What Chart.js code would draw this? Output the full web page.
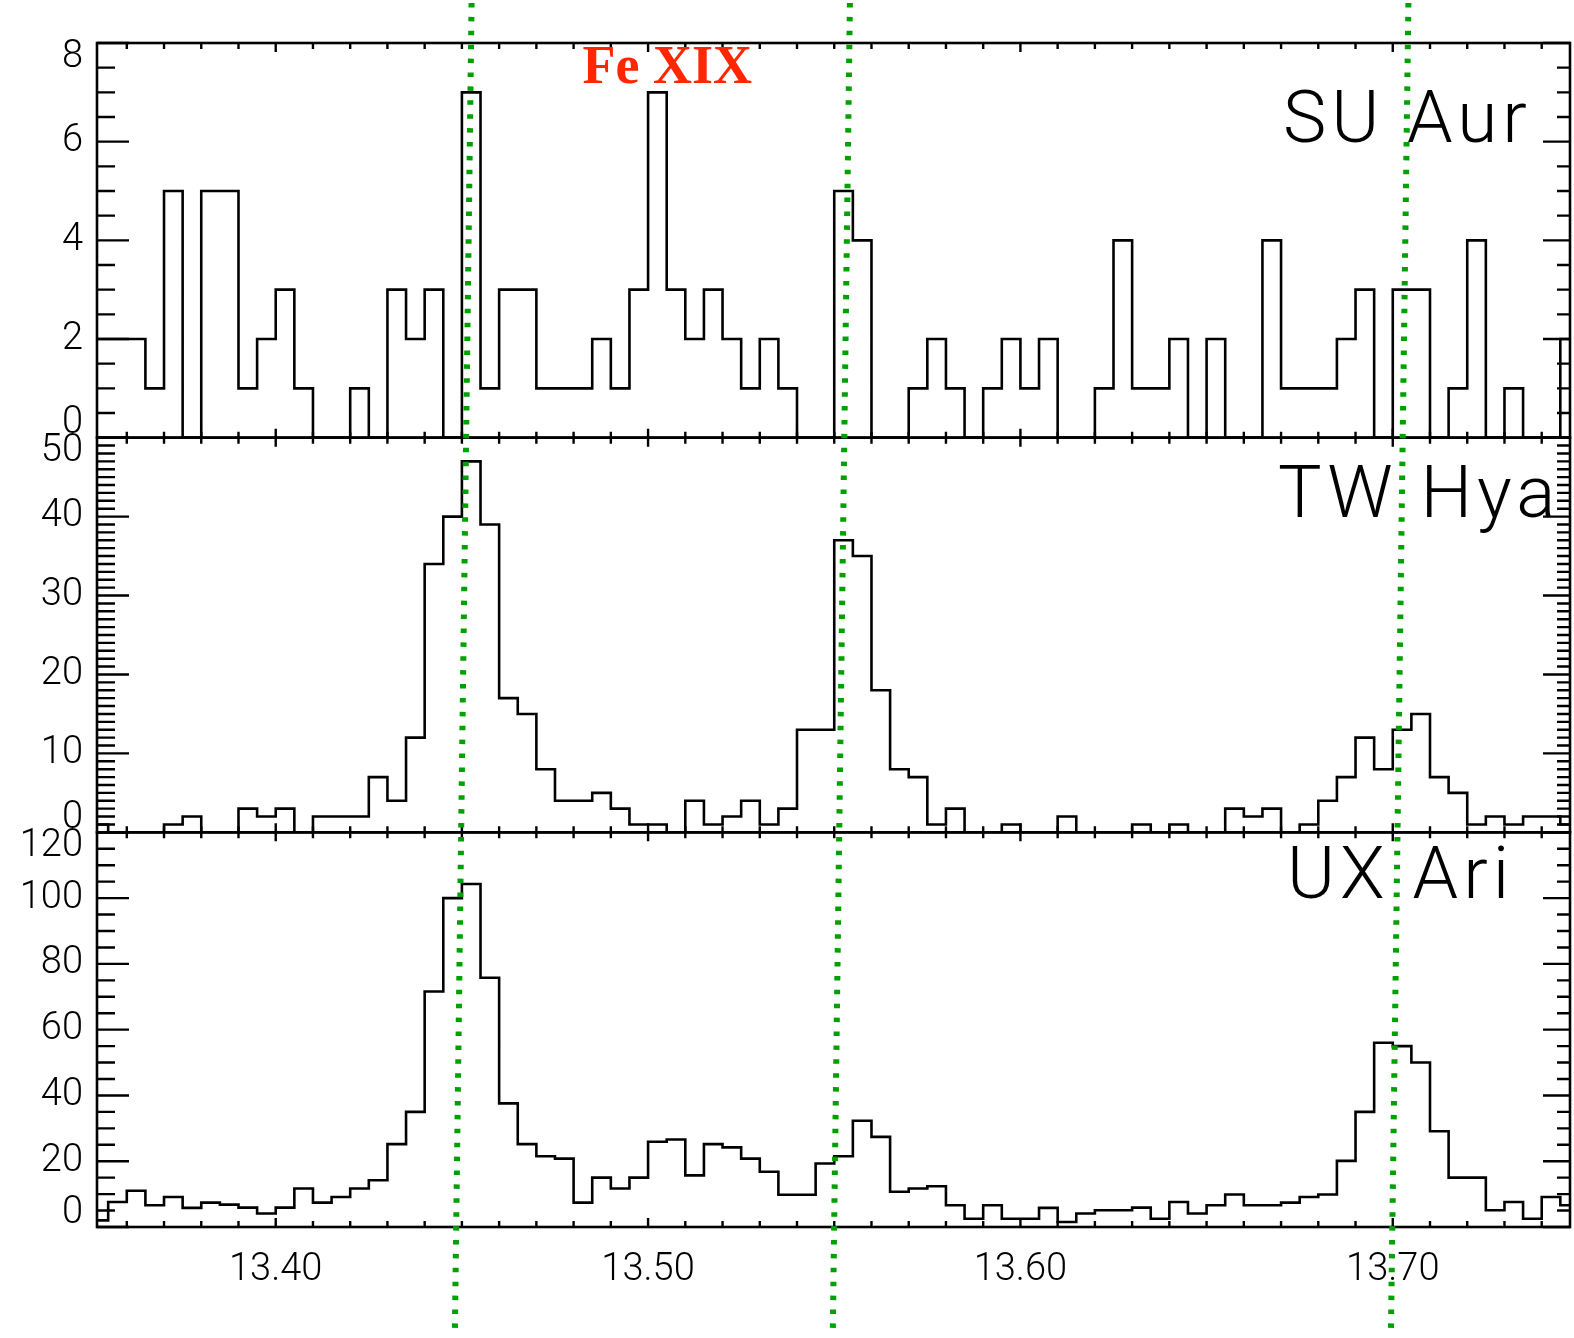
<!DOCTYPE html>
<html><head><meta charset="utf-8">
<script src="https://cdn.jsdelivr.net/npm/chart.js@4.4.0/dist/chart.umd.min.js"></script>
<style>html,body{margin:0;padding:0;background:#fff;}canvas{display:block;}</style>
</head><body>
<canvas id="c" width="1574" height="1338"></canvas>
<script>
// Bin edges (Å): lower edges of the 0.005 Å bins plus the final upper edge
const binEdges = [
  13.350,13.355,13.360,13.365,13.370,13.375,13.380,13.385,13.390,13.395,
  13.400,13.405,13.410,13.415,13.420,13.425,13.430,13.435,13.440,13.445,
  13.450,13.455,13.460,13.465,13.470,13.475,13.480,13.485,13.490,13.495,
  13.500,13.505,13.510,13.515,13.520,13.525,13.530,13.535,13.540,13.545,
  13.550,13.555,13.560,13.565,13.570,13.575,13.580,13.585,13.590,13.595,
  13.600,13.605,13.610,13.615,13.620,13.625,13.630,13.635,13.640,13.645,
  13.650,13.655,13.660,13.665,13.670,13.675,13.680,13.685,13.690,13.695,
  13.700,13.705,13.710,13.715,13.720,13.725,13.730,13.735,13.740,13.745,
  13.750
];
const suAur = [
  2,2,2,1,5,0,5,5,1,2,
  3,1,0,0,1,0,3,2,3,0,
  7,1,3,3,1,1,1,2,1,3,
  7,3,2,3,2,1,2,1,0,0,
  5,4,0,0,1,2,1,0,1,2,
  1,2,0,0,1,4,1,1,2,0,
  2,0,0,4,1,1,1,2,3,0,
  3,3,0,1,4,0,1,0,0,2
];
const twHya = [
  1,0,0,0,1,2,0,0,3,2,
  3,0,2,2,2,7,4,12,34,40,
  47,39,17,15,8,4,4,5,3,1,
  1,0,4,1,2,4,1,3,13,13,
  37,35,18,8,7,1,3,0,0,1,
  0,0,2,0,0,0,1,0,1,0,
  0,3,2,3,0,1,4,7,12,8,
  13,15,7,5,1,2,1,2,2,1
];
const uxAri = [
  2,7.6,11,6.6,9.1,5.8,7.4,6.8,5.9,4.1,
  5.9,11.7,7.4,9.1,11.7,14.2,25.2,35,71.6,100,
  104.3,75.8,37.6,25.2,21.5,20.8,7.4,15,11.7,15,
  25.9,26.6,15.7,25.2,24.2,20.8,16.8,9.8,9.8,19.3,
  21.5,32.3,27.4,10.7,11.7,12.4,6.6,2.5,6.6,2.5,
  2.5,5.8,1.5,4.1,5.1,5.1,5.9,2.5,7.6,4.1,
  6.6,9.9,6.6,6.6,7.4,9.1,9.9,20.1,35,56,
  55,50,29.1,15,15,5.1,7.6,2.5,9.1,6.6
];
const panelNames = ['SU Aur', 'TW Hya', 'UX Ari'];
const panelSeries = [suAur, twHya, uxAri];
const panelIds = ['y1', 'y2', 'y3'];
const yMax = [8, 50, 120];
const yMajorStep = [2, 10, 20];
const yMinorStep = [0.5, 1, 5];
const xTickValues = [13.40, 13.50, 13.60, 13.70];
const xMinorStep = 0.01;
const xRange = [13.352, 13.7476];
// name label anchors (wavelength, value of baseline)
const nameWave = [13.6705, 13.6692, 13.6716];
const nameValue = [6, 40, 100];
// Fe XIX annotation anchor (wavelength, value in top panel)
const feLabel = 'Fe XIX';
const feWave = 13.4824;
const feValue = 7.19;
// dotted marker lines: wavelength at top and bottom of the figure
const markTopWave = [13.4526, 13.5542, 13.7042];
const markBottomWave = [13.4481, 13.5496, 13.6995];

const numFont = '300 38px Roboto, "DejaVu Sans", sans-serif';
const nameFont = '300 73px Roboto, "DejaVu Sans", sans-serif';
const feFont = 'bold 54px "Liberation Serif", "Times New Roman", serif';

function stepPoints(vals) {
  return binEdges.map((e, i) => ({x: e, y: vals[Math.min(i, vals.length - 1)]}));
}

const decor = {
  id: 'decor',
  afterDraw(chart) {
    const ctx = chart.ctx, xs = chart.scales.x, area = chart.chartArea;
    ctx.save();
    ctx.strokeStyle = '#000'; ctx.fillStyle = '#000'; ctx.lineCap = 'butt';
    panelIds.forEach((id, p) => {
      const ys = chart.scales[id];
      const top = ys.getPixelForValue(yMax[p]), bot = ys.getPixelForValue(0);
      ctx.lineWidth = 2.6;
      ctx.strokeRect(area.left, top, area.right - area.left, bot - top);
      ctx.beginPath();
      const k0 = Math.ceil(xs.min / xMinorStep - 1e-6), k1 = Math.floor(xs.max / xMinorStep + 1e-6);
      for (let k = k0; k <= k1; k++) {
        const px = xs.getPixelForValue(k * xMinorStep);
        const len = (k % 10 === 0) ? 9 : 6;
        ctx.moveTo(px, top); ctx.lineTo(px, top + len);
        ctx.moveTo(px, bot); ctx.lineTo(px, bot - len);
      }
      const n = Math.round(yMax[p] / yMinorStep[p]);
      for (let j = 0; j <= n; j++) {
        const v = j * yMinorStep[p];
        const py = ys.getPixelForValue(v);
        const r = v / yMajorStep[p];
        const major = Math.abs(r - Math.round(r)) < 1e-6;
        ctx.moveTo(area.left, py); ctx.lineTo(area.left + (major ? 32 : 18), py);
        ctx.moveTo(area.right, py); ctx.lineTo(area.right - (major ? 27 : 13), py);
      }
      ctx.lineWidth = 2.4;
      ctx.stroke();
      ctx.font = numFont; ctx.textAlign = 'right'; ctx.textBaseline = 'middle';
      for (let v = 0; v <= yMax[p] + 1e-9; v += yMajorStep[p]) {
        let py = ys.getPixelForValue(v);
        if (v === 0) py -= 14; else if (v === yMax[p]) py += 14;
        ctx.fillText(String(v), area.left - 14, py);
      }
      ctx.font = nameFont; ctx.textAlign = 'left'; ctx.textBaseline = 'alphabetic';
      ctx.letterSpacing = '5px';
      ctx.fillText(panelNames[p], xs.getPixelForValue(nameWave[p]), ys.getPixelForValue(nameValue[p]));
      ctx.letterSpacing = '0px';
    });
    // Fe XIX label
    ctx.font = feFont; ctx.fillStyle = 'rgb(255,38,0)'; ctx.textAlign = 'left'; ctx.textBaseline = 'alphabetic';
    ctx.fillText(feLabel, xs.getPixelForValue(feWave), chart.scales.y1.getPixelForValue(feValue));
    // green dotted marker lines
    ctx.strokeStyle = '#00a000'; ctx.lineWidth = 6; ctx.setLineDash([4.5, 9.4]);
    const yTop = 3, yBot = chart.height - 3;
    markTopWave.forEach((w, i) => {
      ctx.beginPath();
      ctx.moveTo(xs.getPixelForValue(w), yTop);
      ctx.lineTo(xs.getPixelForValue(markBottomWave[i]), yBot);
      ctx.stroke();
    });
    ctx.restore();
  }
};

const datasets = panelSeries.map((vals, p) => ({
  label: panelNames[p],
  data: stepPoints(vals),
  yAxisID: panelIds[p],
  stepped: true,
  borderColor: '#000',
  borderWidth: 2.6,
  pointRadius: 0,
  fill: false
}));

const yScale = (p, w) => ({
  type: 'linear', position: 'left', stack: 'panels', stackWeight: 1, weight: w,
  min: 0, max: yMax[p], display: false
});

new Chart(document.getElementById('c'), {
  type: 'line',
  data: {datasets},
  options: {
    responsive: false, animation: false, devicePixelRatio: 1,
    layout: {padding: {left: 97, top: 43, right: 4, bottom: 0}},
    plugins: {legend: {display: false}, tooltip: {enabled: false}},
    scales: {
      x: {
        type: 'linear', position: 'bottom', min: xRange[0], max: xRange[1],
        grid: {display: false, drawTicks: false}, border: {display: false},
        afterBuildTicks: s => { s.ticks = xTickValues.map(v => ({value: v})); },
        afterFit: s => { s.height = 111; },
        ticks: {
          callback: v => Number(v).toFixed(2), color: '#000', padding: 21,
          maxRotation: 0, autoSkip: false,
          font: {family: 'Roboto, "DejaVu Sans", sans-serif', size: 38, weight: '300'}
        }
      },
      y1: yScale(0, 3),
      y2: yScale(1, 2),
      y3: yScale(2, 1)
    }
  },
  plugins: [decor]
});
</script>
</body></html>
